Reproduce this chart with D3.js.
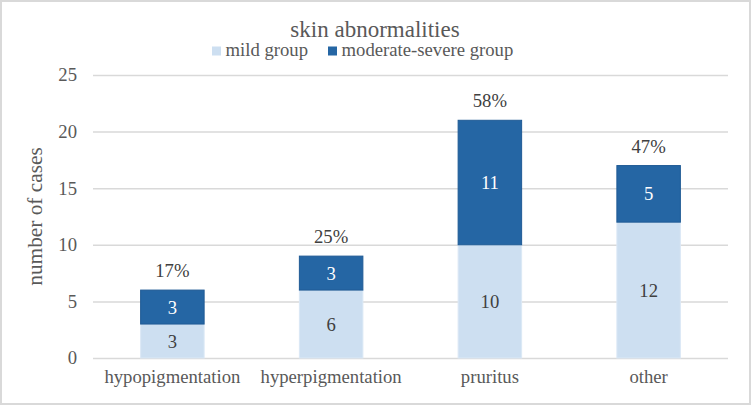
<!DOCTYPE html>
<html>
<head>
<meta charset="utf-8">
<script src="https://cdn.jsdelivr.net/npm/d3@7"></script>
<style>
  html, body { margin: 0; padding: 0; background: #fff; }
</style>
</head>
<body>
<div id="chart"></div>
<script>
// data
const categories = ["hypopigmentation", "hyperpigmentation", "pruritus", "other"];
const mildValues = [3, 6, 10, 12];
const severeValues = [3, 3, 11, 5];
const percentLabels = ["17%", "25%", "58%", "47%"];
const seriesNames = ["mild group", "moderate-severe group"];
const yTicks = [0, 5, 10, 15, 20, 25];

const width = 752, height = 406;
const margin = {top: 75, right: 24, bottom: 48, left: 93};
const colors = ["#cddff1", "#2566a4"];
const FONT = "'Liberation Serif', 'Times New Roman', serif";

const svg = d3.select("#chart")
  .append("svg")
    .attr("width", width)
    .attr("height", height)
    .style("display", "block")
    .style("font-family", FONT);

// outer frame
svg.append("rect")
  .attr("x", 1).attr("y", 1)
  .attr("width", width - 3).attr("height", height - 3)
  .attr("fill", "#fff")
  .attr("stroke", "#d9d9d9")
  .attr("stroke-width", 2);

const x = d3.scaleBand()
  .domain(categories)
  .range([margin.left, width - margin.right])
  .paddingInner(0.6)
  .paddingOuter(0.3);

const y = d3.scaleLinear()
  .domain([0, 25])
  .range([height - margin.bottom, margin.top]);

// gridlines + y labels
const yAxis = svg.append("g")
  .attr("transform", `translate(${margin.left},0)`)
  .call(d3.axisLeft(y).tickValues(yTicks).tickSize(-(width - margin.left - margin.right)).tickPadding(16))
  .attr("font-family", null);
yAxis.select(".domain").remove();
yAxis.selectAll(".tick line").attr("stroke", "#d9d9d9").attr("stroke-width", 1.5);
yAxis.selectAll(".tick text")
  .attr("fill", "#595959")
  .style("font-size", "18.7px")
  .style("font-family", FONT);

// x labels
const xAxis = svg.append("g")
  .attr("transform", `translate(0,${height - margin.bottom})`)
  .call(d3.axisBottom(x).tickSize(0).tickPadding(12))
  .attr("font-family", null);
xAxis.select(".domain").remove();
xAxis.selectAll(".tick text")
  .attr("fill", "#595959")
  .attr("dy", "0.71em")
  .style("font-size", "18.7px")
  .style("font-family", FONT);

// stacked bars
const rows = categories.map((c, i) => ({cat: c, mild: mildValues[i], severe: severeValues[i], pct: percentLabels[i]}));
const stack = d3.stack().keys(["mild", "severe"])(rows);

const layers = svg.selectAll("g.layer")
  .data(stack)
  .join("g")
    .attr("class", "layer");

layers.selectAll("rect")
  .data((s, k) => s.map(d => ({d, k})))
  .join("rect")
    .attr("x", o => x(o.d.data.cat))
    .attr("y", o => y(o.d[1]))
    .attr("width", x.bandwidth())
    .attr("height", o => y(o.d[0]) - y(o.d[1]))
    .attr("fill", o => colors[o.k])
    .attr("stroke", o => o.k === 0 ? "#dbe8f5" : "#1f5a95")
    .attr("stroke-width", 1);

layers.selectAll("text")
  .data((s, k) => s.map(d => ({d, k})))
  .join("text")
    .attr("x", o => x(o.d.data.cat) + x.bandwidth() / 2)
    .attr("y", o => y((o.d[0] + o.d[1]) / 2))
    .attr("dy", "0.35em")
    .attr("text-anchor", "middle")
    .attr("fill", o => o.k === 0 ? "#404040" : "#ffffff")
    .style("font-size", "18.7px")
    .style("font-family", FONT)
    .text(o => o.d[1] - o.d[0]);

// percentage above each bar
svg.selectAll("text.pct")
  .data(rows)
  .join("text")
    .attr("class", "pct")
    .attr("x", d => x(d.cat) + x.bandwidth() / 2)
    .attr("y", d => y(d.mild + d.severe) - 13)
    .attr("text-anchor", "middle")
    .attr("fill", "#404040")
    .style("font-size", "18.7px")
    .style("font-family", FONT)
    .text(d => d.pct);

// title
svg.append("text")
  .attr("x", 375)
  .attr("y", 37)
  .attr("text-anchor", "middle")
  .attr("fill", "#595959")
  .style("font-size", "23px")
  .style("font-family", FONT)
  .text("skin abnormalities");

// y axis title
svg.append("text")
  .attr("transform", `translate(42,${(margin.top + height - margin.bottom) / 2}) rotate(-90)`)
  .attr("text-anchor", "middle")
  .attr("fill", "#595959")
  .style("font-size", "21.3px")
  .style("font-family", FONT)
  .text("number of cases");

// legend
const legend = svg.append("g").attr("transform", "translate(212,56)");
const legendX = [0, 116];
seriesNames.forEach((name, i) => {
  const g = legend.append("g").attr("transform", `translate(${legendX[i]},0)`);
  g.append("rect")
    .attr("x", 0).attr("y", -9.5)
    .attr("width", 9).attr("height", 9)
    .attr("fill", colors[i]);
  g.append("text")
    .attr("x", 13.5)
    .attr("y", 0)
    .attr("fill", "#595959")
    .style("font-size", "18.7px")
    .style("font-family", FONT)
    .text(name);
});
</script>
</body>
</html>
